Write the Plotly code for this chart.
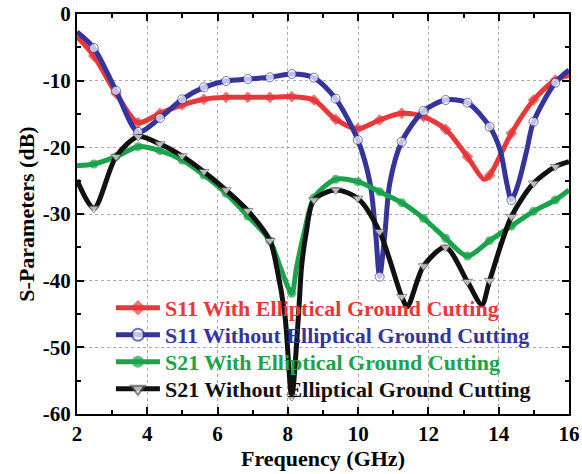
import plotly.graph_objects as go

# Frequencies (GHz) where the series carry a marker
MARKER_X = [2.48, 3.11, 3.74, 4.36, 4.99, 5.61, 6.24, 6.86, 7.49, 8.11, 8.74,
            9.36, 9.99, 10.61, 11.24, 11.86, 12.49, 13.11, 13.74, 14.36, 14.99, 15.61]

# S11 with elliptical ground cutting
s11_with_x = [2.0, 2.48, 3.11, 3.74, 4.36, 4.99, 5.61, 6.24, 6.86, 7.49, 8.11, 8.74,
              9.36, 9.99, 10.61, 11.24, 11.86, 12.49, 13.11, 13.58, 13.74, 14.36, 14.99, 15.61, 16.0]
s11_with_y = [-3.4, -6.3, -11.9, -16.3, -14.9, -13.65, -12.8, -12.5, -12.5, -12.5, -12.4, -12.9,
              -15.8, -17.2, -15.9, -14.9, -15.4, -17.3, -21.4, -24.8, -24.2, -17.9, -12.9, -9.9, -9.2]

# S11 without elliptical ground cutting
s11_wo_x = [2.0, 2.48, 3.11, 3.74, 4.36, 4.99, 5.61, 6.24, 6.86, 7.49, 8.11, 8.74,
            9.36, 9.99, 10.34, 10.5, 10.61, 10.76, 10.9, 11.24, 11.86, 12.49, 13.11, 13.74,
            14.04, 14.23, 14.36, 14.56, 14.8, 14.99, 15.61, 16.0]
s11_wo_y = [-2.7, -5.1, -11.5, -17.7, -15.6, -12.8, -11.0, -10.05, -9.75, -9.5, -9.0, -9.55,
            -12.7, -18.9, -25.4, -33.0, -39.4, -33.0, -25.4, -19.15, -14.55, -12.9, -13.3, -16.9,
            -20.4, -25.4, -27.9, -25.4, -20.4, -16.15, -10.3, -8.4]

# S21 with elliptical ground cutting
s21_with_x = [2.0, 2.48, 3.11, 3.74, 4.36, 4.99, 5.61, 6.24, 6.86, 7.49, 7.78, 8.11, 8.25,
              8.46, 8.74, 9.36, 9.99, 10.61, 11.24, 11.86, 12.49, 13.11, 13.74, 14.36, 14.99, 15.61, 16.0]
s21_with_y = [-22.75, -22.5, -21.4, -19.9, -20.5, -21.9, -24.15, -26.9, -30.3, -34.0, -37.9, -41.9, -37.9,
              -32.9, -27.6, -24.8, -25.15, -26.65, -28.3, -30.65, -33.65, -36.3, -34.0, -31.8, -29.6, -27.9, -26.4]

# S21 without elliptical ground cutting
s21_wo_x = [2.0, 2.48, 3.11, 3.74, 4.36, 4.99, 5.61, 6.24, 6.86, 7.49, 7.68, 7.92, 8.11, 8.3,
            8.39, 8.52, 8.74, 9.36, 9.99, 10.61, 11.24, 11.4, 11.86, 12.49, 13.11, 13.52, 13.74,
            14.36, 14.99, 15.61, 16.0]
s21_wo_y = [-24.9, -29.15, -21.4, -18.4, -19.5, -21.3, -23.65, -26.4, -29.5, -34.0, -37.9, -45.4, -57.4, -45.4,
            -37.9, -32.9, -27.9, -26.4, -27.65, -32.65, -42.4, -43.9, -37.8, -35.0, -40.15, -43.6, -40.0,
            -30.4, -25.4, -22.9, -22.15]

names = ["S11 With Elliptical Ground Cutting", "S11 Without Elliptical Ground Cutting",
         "S21 With Elliptical Ground Cutting", "S21 Without Elliptical Ground Cutting"]

x_ticks = [2, 4, 6, 8, 10, 12, 14, 16]
y_ticks = [-60, -50, -40, -30, -20, -10, 0]

FONT = "Liberation Serif, Times New Roman, serif"

series = [
    (s11_with_x, s11_with_y, "#e8383a", dict(symbol="diamond", color="#e8383a", line=dict(width=0))),
    (s11_wo_x, s11_wo_y, "#34349a", dict(symbol="circle", color="white", line=dict(width=1, color="#34349a"))),
    (s21_with_x, s21_with_y, "#1aa34a", dict(symbol="circle", color="#1aa34a", line=dict(width=0))),
    (s21_wo_x, s21_wo_y, "#111111", dict(symbol="triangle-down", color="white", line=dict(width=1, color="#555555"))),
]

legend_ids = ["legend", "legend2", "legend3", "legend4"]
legend_y = [0.265, 0.1975, 0.13, 0.0625]

fig = go.Figure()
layout_legends = {}
for i, ((xs, ys, col, mk), nm) in enumerate(zip(series, names)):
    sizes = [9 if any(abs(x - m) < 1e-6 for m in MARKER_X) else 0 for x in xs]
    mk = dict(mk, size=sizes)
    fig.add_trace(go.Scatter(
        x=xs, y=ys, mode="lines+markers", name=nm, legend=legend_ids[i],
        line=dict(color=col, width=5, shape="spline", smoothing=0.8),
        marker=mk,
    ))
    layout_legends[legend_ids[i]] = dict(
        x=0.069, y=legend_y[i], xanchor="left", yanchor="middle",
        bgcolor="rgba(0,0,0,0)", itemsizing="constant", itemwidth=44,
        font=dict(family=FONT, size=22, weight="bold", color=col),
    )

fig.update_layout(
    width=582, height=474,
    margin=dict(l=77, r=13, t=14, b=60),
    paper_bgcolor="white", plot_bgcolor="white",
    font=dict(family=FONT, size=21, color="black", weight="bold"),
    showlegend=True,
    **layout_legends,
)
fig.update_xaxes(
    range=[2, 16], tickvals=x_ticks, ticktext=[str(v) for v in x_ticks],
    automargin=False,
    showline=True, linecolor="black", linewidth=2, mirror="allticks",
    ticks="inside", ticklen=7, tickwidth=2, tickcolor="black",
    minor=dict(dtick=1, ticks="inside", ticklen=4, tickwidth=2, tickcolor="black", showgrid=False),
    showgrid=True, gridcolor="#aaaaaa", griddash="dot", gridwidth=1,
    zeroline=False,
    title=dict(text="Frequency (GHz)", font=dict(family=FONT, size=22, weight="bold"), standoff=4),
    tickfont=dict(family=FONT, size=21, weight="bold"),
)
fig.update_yaxes(
    range=[-60, 0], tickvals=y_ticks, ticktext=[str(v) for v in y_ticks],
    automargin=False,
    showline=True, linecolor="black", linewidth=2, mirror="allticks",
    ticks="inside", ticklen=7, tickwidth=2, tickcolor="black",
    minor=dict(dtick=5, ticks="inside", ticklen=4, tickwidth=2, tickcolor="black", showgrid=False),
    showgrid=True, gridcolor="#aaaaaa", griddash="dot", gridwidth=1,
    zeroline=False,
    title=dict(text="S-Parameters (dB)", font=dict(family=FONT, size=22, weight="bold"), standoff=2),
    tickfont=dict(family=FONT, size=21, weight="bold"),
)

fig.write_html("out.html")
